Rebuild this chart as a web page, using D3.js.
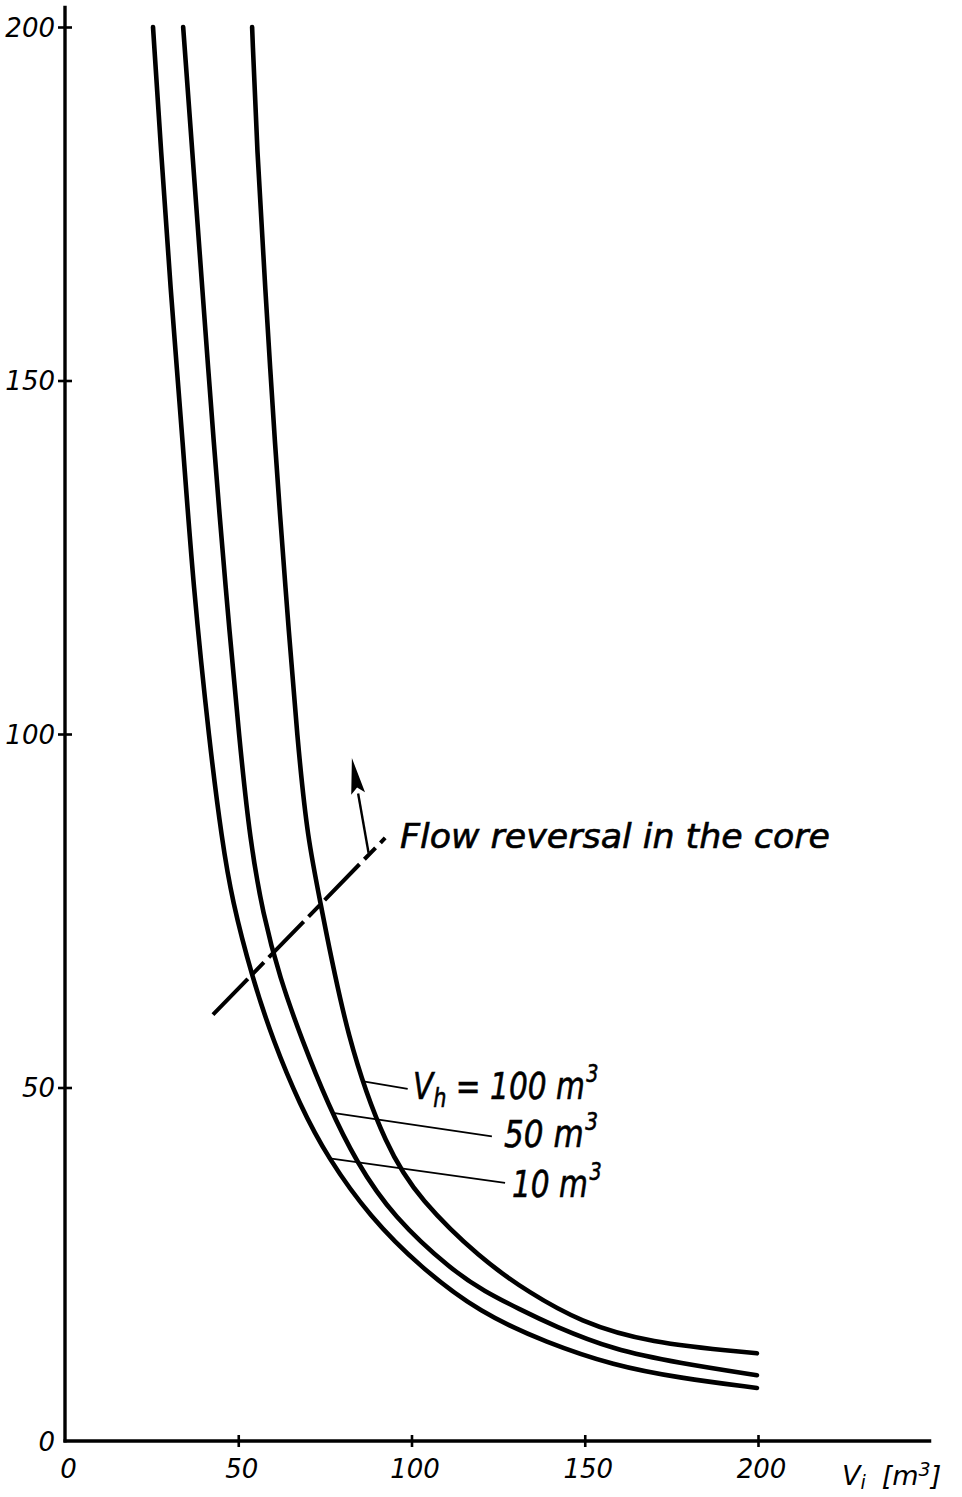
<!DOCTYPE html>
<html lang="en">
<head>
<meta charset="UTF-8">
<title>Flow reversal chart</title>
<script src="https://d3js.org/d3.v7.min.js"></script>
<style>
  body { margin: 0; background: #fff; }
  text { font-family: "DejaVu Sans", sans-serif; font-style: italic; fill: #000; }
</style>
</head>
<body>
<div id="chart"></div>
<script>
// tick values
var xTicks = [0, 50, 100, 150, 200];
var yTicks = [0, 50, 100, 150, 200];

// curves (x = Vi in m3)
var vi10 = [25.4, 27.7, 30.3, 34.1, 36.9, 41.8, 45.3, 48.2, 54.0, 60.0, 67.8, 75.9, 88.0, 102.5, 119.8, 139.1, 158.2, 177.5, 199.7];
var q10  = [200, 182.6, 163.8, 140.6, 121.4, 98.2, 85.0, 76.5, 65.6, 56.7, 47.5, 40.0, 31.7, 24.6, 18.1, 13.9, 10.7, 8.9, 7.5];

var vi50 = [34.1, 36.7, 39.5, 43.0, 46.2, 50.5, 53.4, 57.1, 62.0, 68.4, 76.0, 84.0, 94.7, 112.0, 121.0, 131.3, 141.0, 158.2, 177.5, 199.7];
var q50  = [200, 182.6, 163.8, 140.6, 121.4, 98.2, 85.0, 74.5, 65.5, 56.7, 47.5, 39.5, 31.7, 24.0, 21.2, 18.6, 16.3, 12.9, 11.0, 9.3];

var vi100 = [54.0, 55.4, 57.7, 60.6, 63.5, 67.2, 70.1, 73.6, 81.4, 92.9, 102.5, 119.8, 134.2, 148.6, 168.0, 199.7];
var q100  = [200, 182.6, 163.8, 140.6, 121.4, 98.2, 85.0, 76.5, 56.7, 41.2, 34.1, 25.8, 20.9, 16.9, 13.9, 12.4];

// flow reversal boundary (dash-dot line) and arrow
var reversalVi = [42.7, 92.4];
var reversalQ  = [60.3, 85.3];
var arrowVi = [87.6, 82.8];
var arrowQ  = [83.2, 96.6];

var width = 962, height = 1497;

var svg = d3.select("#chart").append("svg")
    .attr("width", width)
    .attr("height", height);

var x = d3.scaleLinear().domain([0, 200]).range([65, 758]);
var y = d3.scaleLinear().domain([0, 200]).range([1441, 27]);

// axis lines
svg.append("line")
    .attr("x1", x(0)).attr("x2", x(0))
    .attr("y1", y(0) + 1.5).attr("y2", y(203))
    .attr("stroke", "#000").attr("stroke-width", 3.4);
svg.append("line")
    .attr("x1", x(0) - 1.5).attr("x2", x(250))
    .attr("y1", y(0)).attr("y2", y(0))
    .attr("stroke", "#000").attr("stroke-width", 3.4);

// y axis
var yAxis = svg.append("g")
    .attr("transform", "translate(" + x(0) + ",0)")
    .call(d3.axisLeft(y).tickValues(yTicks).tickSize(6).tickPadding(10));
yAxis.select(".domain").remove();
yAxis.selectAll(".tick line")
    .attr("x1", -7).attr("x2", 7)
    .attr("stroke-width", 2.6)
    .attr("display", function (d) { return d === 0 ? "none" : null; });
yAxis.selectAll(".tick text")
    .attr("font-size", 26)
    .attr("font-family", null)
    .attr("x", -10)
    .attr("dy", "0.36em");

// x axis
var xAxis = svg.append("g")
    .attr("transform", "translate(0," + y(0) + ")")
    .call(d3.axisBottom(x).tickValues(xTicks).tickSize(6).tickPadding(12));
xAxis.select(".domain").remove();
xAxis.selectAll(".tick line")
    .attr("y1", -6).attr("y2", 6)
    .attr("stroke-width", 2.6)
    .attr("display", function (d) { return d === 0 ? "none" : null; });
xAxis.selectAll(".tick text")
    .attr("font-size", 26)
    .attr("font-family", null)
    .attr("x", 3)
    .attr("y", 19);
svg.selectAll(".tick text").attr("fill", "#000");

// x axis title
var xt = svg.append("text")
    .attr("x", 842).attr("y", 1485)
    .attr("font-size", 27);
xt.append("tspan").text("V");
xt.append("tspan").attr("font-size", 19).attr("dy", 4).text("i");
xt.append("tspan").attr("dy", -4).attr("dx", 16).text("[m");
xt.append("tspan").attr("font-size", 19).attr("dy", -9).text("3");
xt.append("tspan").attr("dy", 9).text("]");

// curves
var line = d3.line()
    .x(function (d) { return x(d[0]); })
    .y(function (d) { return y(d[1]); })
    .curve(d3.curveBasis);

var curves = [d3.zip(vi10, q10), d3.zip(vi50, q50), d3.zip(vi100, q100)];

svg.append("g").selectAll("path")
    .data(curves)
    .enter()
    .append("path")
    .attr("d", line)
    .attr("fill", "none")
    .attr("stroke", "#000")
    .attr("stroke-width", 4.6)
    .attr("stroke-linecap", "round");

// dash-dot reversal line
svg.append("line")
    .attr("x1", x(reversalVi[0])).attr("y1", y(reversalQ[0]))
    .attr("x2", x(reversalVi[1])).attr("y2", y(reversalQ[1]))
    .attr("stroke", "#000")
    .attr("stroke-width", 4)
    .attr("stroke-dasharray", "50,7,16,7");

// arrow
var ax0 = x(arrowVi[0]), ay0 = y(arrowQ[0]);
var ax1 = x(arrowVi[1]), ay1 = y(arrowQ[1]);
var len = Math.hypot(ax1 - ax0, ay1 - ay0);
var ux = (ax1 - ax0) / len, uy = (ay1 - ay0) / len;
var headLen = 36, headW = 7;
var bx = ax1 - ux * headLen, by = ay1 - uy * headLen;
svg.append("line")
    .attr("x1", ax0).attr("y1", ay0)
    .attr("x2", bx).attr("y2", by)
    .attr("stroke", "#000").attr("stroke-width", 2.4);
svg.append("path")
    .attr("d", "M" + ax1 + "," + ay1 +
        "L" + (bx - uy * headW) + "," + (by + ux * headW) +
        "L" + (ax1 - ux * (headLen - 6)) + "," + (ay1 - uy * (headLen - 6)) +
        "L" + (bx + uy * headW) + "," + (by - ux * headW) + "Z")
    .attr("fill", "#000");

svg.append("text")
    .attr("x", 400).attr("y", 848)
    .attr("font-size", 34)
    .attr("stroke", "#000").attr("stroke-width", 0.6)
    .attr("textLength", 430)
    .attr("lengthAdjust", "spacingAndGlyphs")
    .text("Flow reversal in the core");

// leader lines to the curve labels
var leaders = [
    {from: [85.7, 50.9], to: [98.9, 49.8]},
    {from: [77.3, 46.4], to: [123.2, 43.1]},
    {from: [75.9, 40.0], to: [127.0, 36.5]}
];
svg.append("g").selectAll("line")
    .data(leaders)
    .enter()
    .append("line")
    .attr("x1", function (d) { return x(d.from[0]); })
    .attr("y1", function (d) { return y(d.from[1]); })
    .attr("x2", function (d) { return x(d.to[0]); })
    .attr("y2", function (d) { return y(d.to[1]); })
    .attr("stroke", "#000")
    .attr("stroke-width", 1.8);

// curve labels, squeezed horizontally like the original lettering
function curveLabel(px, py, sx, parts) {
    var t = svg.append("text")
        .attr("transform", "translate(" + px + "," + py + ") scale(" + sx + ",1)")
        .attr("font-size", 37)
        .attr("stroke", "#000").attr("stroke-width", 0.6);
    parts.forEach(function (p) {
        var s = t.append("tspan").text(p.t);
        if (p.size) s.attr("font-size", p.size);
        if (p.dy) s.attr("dy", p.dy);
        if (p.dx) s.attr("dx", p.dx);
    });
}
curveLabel(413, 1099, 0.8, [
    {t: "V"}, {t: "h", size: 26, dy: 8}, {t: " = 100 m", dy: -8}, {t: "3", size: 24, dy: -17, dx: 2}
]);
curveLabel(504, 1147, 0.84, [
    {t: "50 m"}, {t: "3", size: 24, dy: -17, dx: 2}
]);
curveLabel(512, 1197, 0.8, [
    {t: "10 m"}, {t: "3", size: 24, dy: -17, dx: 2}
]);
</script>
</body>
</html>
